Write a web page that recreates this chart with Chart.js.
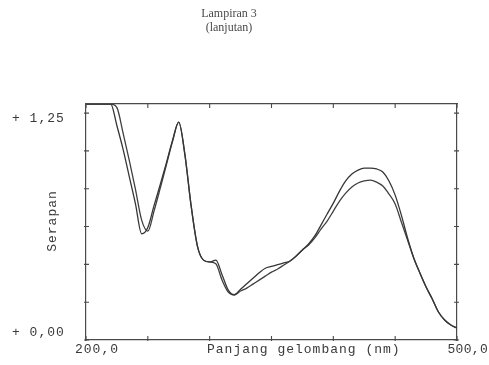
<!DOCTYPE html>
<html><head><meta charset="utf-8">
<script src="https://cdn.jsdelivr.net/npm/chart.js@4.4.0/dist/chart.umd.min.js"></script>
<style>html,body{margin:0;padding:0;background:#fff;}</style>
</head><body>
<canvas id="c" width="489" height="365"></canvas>
<script>
// ---- data ----
const wavelengths = [200,205,210,215,220,225,230,235,240,245,250,255,260,265,270,275,280,285,290,295,300,
  305,310,315,320,325,330,335,340,345,350,355,360,365,370,375,380,385,390,395,400,
  405,410,415,420,425,430,435,440,445,450,455,460,465,470,475,480,485,490,495,500];
const serapanA = [1.30,1.30,1.30,1.30,1.30,1.18,1.05,0.90,0.75,0.585,0.62,0.74,0.855,0.975,1.10,1.20,1.02,0.74,0.52,0.44,0.43,
  0.44,0.36,0.275,0.25,0.28,0.31,0.34,0.37,0.395,0.405,0.415,0.425,0.435,0.463,0.496,0.529,0.573,0.633,0.694,0.754,
  0.820,0.876,0.914,0.936,0.947,0.947,0.942,0.925,0.876,0.798,0.688,0.562,0.452,0.369,0.292,0.226,0.154,0.110,0.083,0.066];
const serapanB = [1.30,1.30,1.30,1.30,1.30,1.28,1.14,0.99,0.83,0.66,0.60,0.71,0.835,0.965,1.095,1.20,1.02,0.74,0.52,0.44,0.43,
  0.42,0.33,0.264,0.248,0.27,0.286,0.308,0.33,0.352,0.374,0.391,0.413,0.435,0.463,0.496,0.523,0.562,0.611,0.655,0.710,
  0.765,0.809,0.843,0.865,0.876,0.881,0.870,0.848,0.804,0.749,0.650,0.551,0.452,0.369,0.292,0.226,0.154,0.110,0.083,0.066];
const xTickValues = [200,250,300,350,400,450,500];
const yTickValues = [0,0.2083,0.4167,0.625,0.8333,1.0417,1.25];
const yTopLabel = '+ 1,25';
const yBottomLabel = '+ 0,00';
const xStartLabel = '200,0';
const xEndLabel = '500,0';
const xTitle = 'Panjang gelombang (nm)';
const yTitle = 'Serapan';
const titleLines = ['Lampiran 3', '(lanjutan)'];

const AXIS = '#4a4a4a';
const INK = '#3a3a3a';
const MONO = '13px "Liberation Mono", "DejaVu Sans Mono", monospace';

function frameAxis(pos, size, isX, ticks) {
  return {
    type: 'linear', position: pos,
    min: isX ? 200 : 0, max: isX ? 500 : 1.3,
    afterBuildTicks: s => { s.ticks = ticks.map(v => ({value: v})); },
    afterFit: s => { if (isX) s.height = size; else s.width = size; },
    ticks: {display: false},
    grid: {display: false},
    border: {display: true, color: AXIS, width: 1.2}
  };
}

const textPlugin = {
  id: 'textPlugin',
  afterDraw(chart) {
    const ctx = chart.ctx;
    const xs = chart.scales.x, ys = chart.scales.y;
    const a = chart.chartArea;
    ctx.save();
    // tick marks
    ctx.strokeStyle = AXIS; ctx.lineWidth = 1.1;
    ctx.beginPath();
    xTickValues.forEach(v => {
      const px = xs.getPixelForValue(v);
      ctx.moveTo(px, a.bottom + 1); ctx.lineTo(px, a.bottom - 4);
      ctx.moveTo(px, a.top - 1); ctx.lineTo(px, a.top + 4);
    });
    yTickValues.forEach(v => {
      const py = ys.getPixelForValue(v);
      ctx.moveTo(a.left - 2, py); ctx.lineTo(a.left + 3, py);
      ctx.moveTo(a.right + 2, py); ctx.lineTo(a.right - 3, py);
    });
    ctx.stroke();
    // monospace texts
    ctx.fillStyle = INK;
    ctx.font = MONO;
    ctx.letterSpacing = '1px';
    ctx.textBaseline = 'middle';
    ctx.textAlign = 'left';
    ctx.fillText(yTopLabel, 12, ys.getPixelForValue(1.25) + 5);
    ctx.fillText(yBottomLabel, 12, ys.getPixelForValue(0) - 7);
    ctx.fillText(xStartLabel, xs.getPixelForValue(200) - 11, a.bottom + 10);
    ctx.fillText(xTitle, 207, a.bottom + 10);
    ctx.save();
    ctx.translate(53, 221);
    ctx.rotate(-Math.PI / 2);
    ctx.textAlign = 'center';
    ctx.fillText(yTitle, 0, 0);
    ctx.restore();
    ctx.letterSpacing = '0.3px';
    ctx.textAlign = 'right';
    ctx.fillText(xEndLabel, chart.width - 1, a.bottom + 10);
    // header
    ctx.letterSpacing = '0px';
    ctx.fillStyle = '#4a4a4a';
    ctx.font = '12px "Liberation Serif", "DejaVu Serif", serif';
    ctx.textAlign = 'center';
    ctx.fillText(titleLines[0], 229, 14);
    ctx.fillText(titleLines[1], 229, 28);
    ctx.restore();
  }
};

const mk = (arr) => wavelengths.map((w, i) => ({x: w, y: arr[i]}));

new Chart(document.getElementById('c'), {
  type: 'line',
  data: {
    datasets: [
      {data: mk(serapanA), borderColor: '#363636', borderWidth: 1.3, pointRadius: 0, cubicInterpolationMode: 'monotone', fill: false, xAxisID: 'x', yAxisID: 'y'},
      {data: mk(serapanB), borderColor: '#404040', borderWidth: 1.3, pointRadius: 0, cubicInterpolationMode: 'monotone', fill: false, xAxisID: 'x', yAxisID: 'y'}
    ]
  },
  options: {
    responsive: false, animation: false, devicePixelRatio: 1,
    layout: {padding: 0},
    plugins: {legend: {display: false}, tooltip: {enabled: false}, title: {display: false}},
    scales: {
      x: frameAxis('bottom', 25, true, xTickValues),
      x2: frameAxis('top', 104, true, xTickValues),
      y: frameAxis('left', 86, false, yTickValues),
      y2: frameAxis('right', 32, false, yTickValues)
    }
  },
  plugins: [textPlugin]
});
</script>
</body></html>
